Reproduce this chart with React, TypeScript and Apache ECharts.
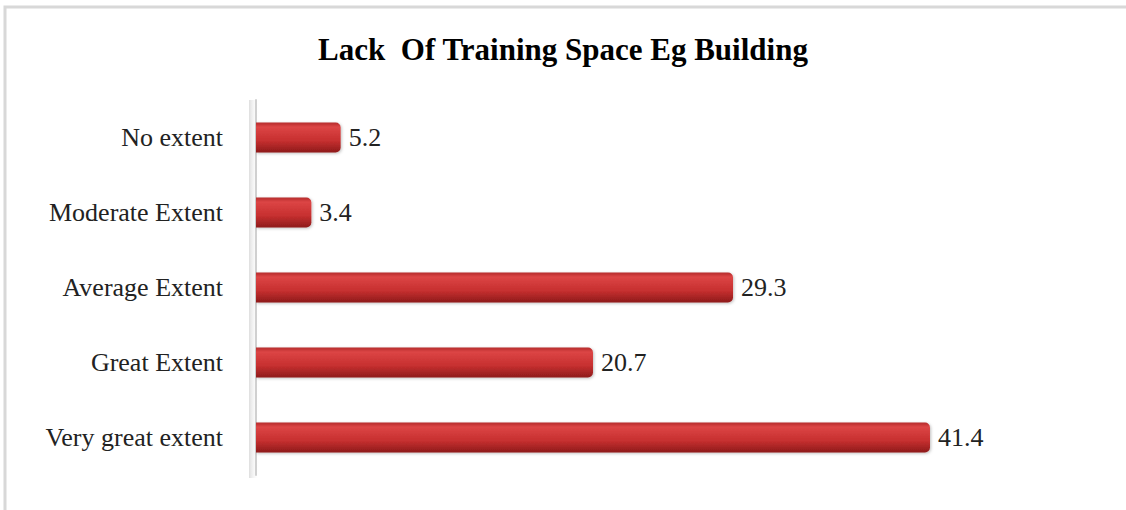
import React, { useEffect, useRef } from "react";
import * as echarts from "echarts";

const categories = ["Very great extent", "Great Extent", "Average Extent", "Moderate Extent", "No extent"];
const values = [41.4, 20.7, 29.3, 3.4, 5.2];
const titleText = "Lack  Of Training Space Eg Building";

export default function App() {
  const ref = useRef<HTMLDivElement>(null);
  useEffect(() => {
    if (!ref.current) return;
    const chart = echarts.init(ref.current, null, { renderer: "svg" });
    chart.setOption({
      animation: false,
      backgroundColor: "#ffffff",
      title: {
        text: titleText,
        left: "center",
        top: 29,
        textStyle: { fontFamily: "Liberation Serif", fontWeight: "bold", fontSize: 31, color: "#000" },
      },
      grid: { left: 256, top: 100, width: 814, height: 375, containLabel: false },
      xAxis: {
        type: "value",
        min: 0,
        max: 50,
        show: false,
      },
      yAxis: {
        type: "category",
        data: categories,
        offset: 8,
        axisLine: { show: true, lineStyle: { color: "#d0d0d0", width: 2 } },
        axisTick: { show: false },
        axisLabel: { fontFamily: "Liberation Serif", fontSize: 26, color: "#222", margin: 25 },
      },
      graphic: [
        {
          type: "rect",
          shape: { x: 5, y: 7, width: 1140, height: 530 },
          style: { fill: "none", stroke: "#d8d8d8", lineWidth: 3 },
          silent: true,
        },
        {
          type: "rect",
          shape: { x: 249, y: 100, width: 10, height: 378 },
          style: {
            fill: new echarts.graphic.LinearGradient(0, 0, 1, 0, [
              { offset: 0, color: "rgba(160,160,160,0.35)" },
              { offset: 1, color: "rgba(255,255,255,0)" },
            ]),
          },
          silent: true,
          z: 0,
        },
      ],
      series: [
        {
          type: "bar",
          data: values,
          barWidth: 30,
          itemStyle: {
            borderRadius: [0, 5, 5, 0],
            color: new echarts.graphic.LinearGradient(0, 0, 0, 1, [
              { offset: 0, color: "#b52a2a" },
              { offset: 0.15, color: "#dc4545" },
              { offset: 0.6, color: "#c73030" },
              { offset: 1, color: "#8e1a1a" },
            ]),
            shadowColor: "rgba(0,0,0,0.25)",
            shadowBlur: 3,
            shadowOffsetX: 1,
            shadowOffsetY: 1,
          },
          label: {
            show: true,
            position: "right",
            distance: 8,
            fontFamily: "Liberation Serif",
            fontSize: 26,
            color: "#222",
          },
        },
      ],
    });
    return () => chart.dispose();
  }, []);
  return <div ref={ref} style={{ position: "fixed", left: 0, top: 0, width: 1126, height: 510 }} />;
}
